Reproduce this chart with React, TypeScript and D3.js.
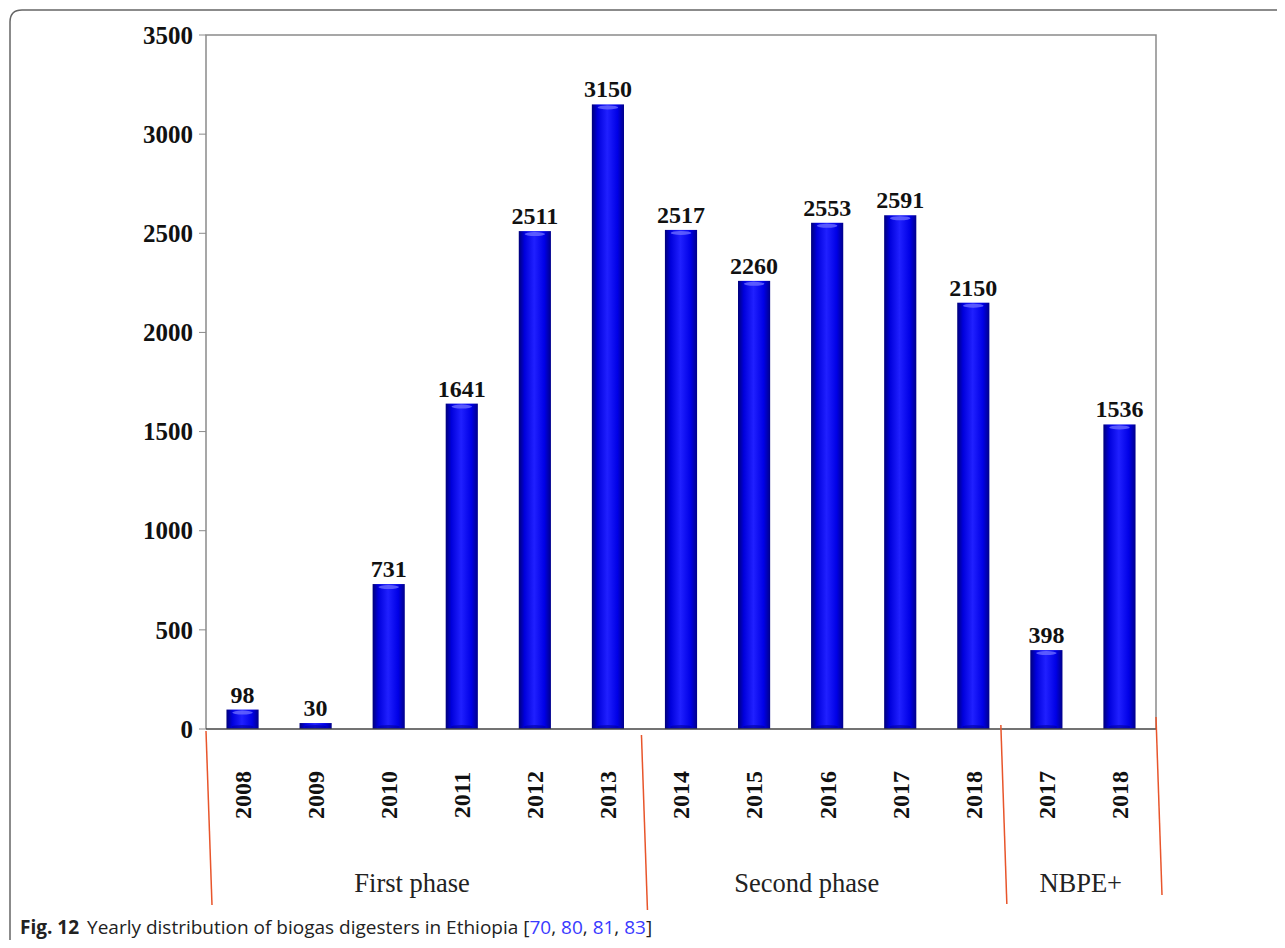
import * as d3 from "d3";

const years = ["2008", "2009", "2010", "2011", "2012", "2013", "2014", "2015", "2016", "2017", "2018", "2017", "2018"];
const counts = [98, 30, 731, 1641, 2511, 3150, 2517, 2260, 2553, 2591, 2150, 398, 1536];
const yTicks = [0, 500, 1000, 1500, 2000, 2500, 3000, 3500];
// "at" is the (fractional) bar index the phase label is centred on
const phases = [
  { name: "First phase", from: 0, to: 5, at: 2.32 },
  { name: "Second phase", from: 6, to: 10, at: 7.72 },
  { name: "NBPE+", from: 11, to: 12, at: 11.47 },
];

const W = 1285;
const H = 948;
const MARGIN = { top: 35, right: 129, bottom: 219, left: 206 };
const SERIF = "'Liberation Serif', 'Times New Roman', serif";
// hand-drawn divider nudges: [x shift, top offset, bottom offset]
const DIVIDER_TWEAK = [
  [0, 2, 176],
  [-3, 6, 181],
  [-9, -4, 175],
  [0, -12, 166],
];

export default function App() {
  const innerW = W - MARGIN.left - MARGIN.right;
  const innerH = H - MARGIN.top - MARGIN.bottom;
  const idx = years.map((_, i) => i);

  const x = d3.scaleBand<number>().domain(idx).range([0, innerW]).paddingInner(0.56).paddingOuter(0.28);
  const y = d3.scaleLinear().domain([0, 3500]).range([innerH, 0]);
  const bw = x.bandwidth();
  const step = x.step();
  const center = (f: number) => x(0)! + bw / 2 + f * step;

  // divider positions sit half a gap outside each phase
  const dividers = [0, 6, 11, 13].map((i) => (i === 0 ? 0 : i === 13 ? innerW : x(i)! - (step - bw) / 2));

  return (
    <div style={{ margin: -8 }}>
      <svg width={W} height={H} style={{ display: "block", background: "#fff" }}>
        <defs>
          <linearGradient id="barGrad" x1="0" x2="1" y1="0" y2="0">
            <stop offset="0%" stopColor="#00007a" />
            <stop offset="18%" stopColor="#0000dc" />
            <stop offset="48%" stopColor="#2020ff" />
            <stop offset="80%" stopColor="#0000e6" />
            <stop offset="100%" stopColor="#00008a" />
          </linearGradient>
        </defs>

        {/* outer frame */}
        <path d={`M10,${H} L10,22 Q10,10 22,10 L${W},10`} fill="none" stroke="#666" strokeWidth={1.5} />

        <g transform={`translate(${MARGIN.left},${MARGIN.top})`}>
          {/* plot frame */}
          <path d={`M0,${innerH} V0 H${innerW} V${innerH}`} fill="none" stroke="#8a8a8a" strokeWidth={1.5} />

          {yTicks.map((t) => (
            <g key={t} transform={`translate(0,${y(t)})`}>
              <line x1={-7} x2={0} stroke="#8a8a8a" />
              <text
                x={-13}
                dy="0.35em"
                textAnchor="end"
                fontFamily={SERIF}
                fontWeight="bold"
                fontSize={25}
                fill="#111"
              >
                {t}
              </text>
            </g>
          ))}

          {counts.map((v, i) => {
            const bx = x(i)!;
            const by = y(v);
            const bh = innerH - by;
            return (
              <g key={i}>
                <rect x={bx} y={by} width={bw} height={bh} fill="url(#barGrad)" />
                {bh > 10 && (
                  <ellipse cx={bx + bw / 2} cy={by + 3} rx={bw * 0.32} ry={2} fill="#6a6aff" opacity={0.8} />
                )}
                <ellipse cx={bx + bw / 2} cy={innerH - 2} rx={bw * 0.35} ry={2} fill="#0000a0" opacity={0.6} />
                <text
                  x={bx + bw / 2}
                  y={by - 7}
                  textAnchor="middle"
                  fontFamily={SERIF}
                  fontWeight="bold"
                  fontSize={24}
                  fill="#111"
                >
                  {v}
                </text>
                <text
                  transform={`translate(${bx + bw / 2},${innerH + 66}) rotate(-90)`}
                  dy="0.35em"
                  textAnchor="middle"
                  fontFamily={SERIF}
                  fontWeight="bold"
                  fontSize={24}
                  fill="#111"
                >
                  {years[i]}
                </text>
              </g>
            );
          })}

          <line x1={0} x2={innerW} y1={innerH} y2={innerH} stroke="#444" strokeWidth={1.5} />

          {dividers.map((dx, k) => {
            const [sh, top, bot] = DIVIDER_TWEAK[k];
            return (
              <line
                key={k}
                x1={dx + sh}
                y1={innerH + top}
                x2={dx + sh + 6}
                y2={innerH + bot}
                stroke="#e8552b"
                strokeWidth={1.5}
              />
            );
          })}

          {phases.map((p) => (
            <text
              key={p.name}
              x={center(p.at)}
              y={innerH + 163}
              textAnchor="middle"
              fontFamily={SERIF}
              fontSize={26.5}
              fill="#222"
            >
              {p.name}
            </text>
          ))}
        </g>

        <text x={20} y={934} fontFamily="'Open Sans', 'Noto Sans', sans-serif" fontSize={19} fill="#222">
          <tspan fontWeight="bold">Fig. 12</tspan>
          <tspan dx={8}>Yearly distribution of biogas digesters in Ethiopia [</tspan>
          <tspan fill="#3a3aff">70</tspan>
          <tspan>, </tspan>
          <tspan fill="#3a3aff">80</tspan>
          <tspan>, </tspan>
          <tspan fill="#3a3aff">81</tspan>
          <tspan>, </tspan>
          <tspan fill="#3a3aff">83</tspan>
          <tspan>]</tspan>
        </text>
      </svg>
    </div>
  );
}
